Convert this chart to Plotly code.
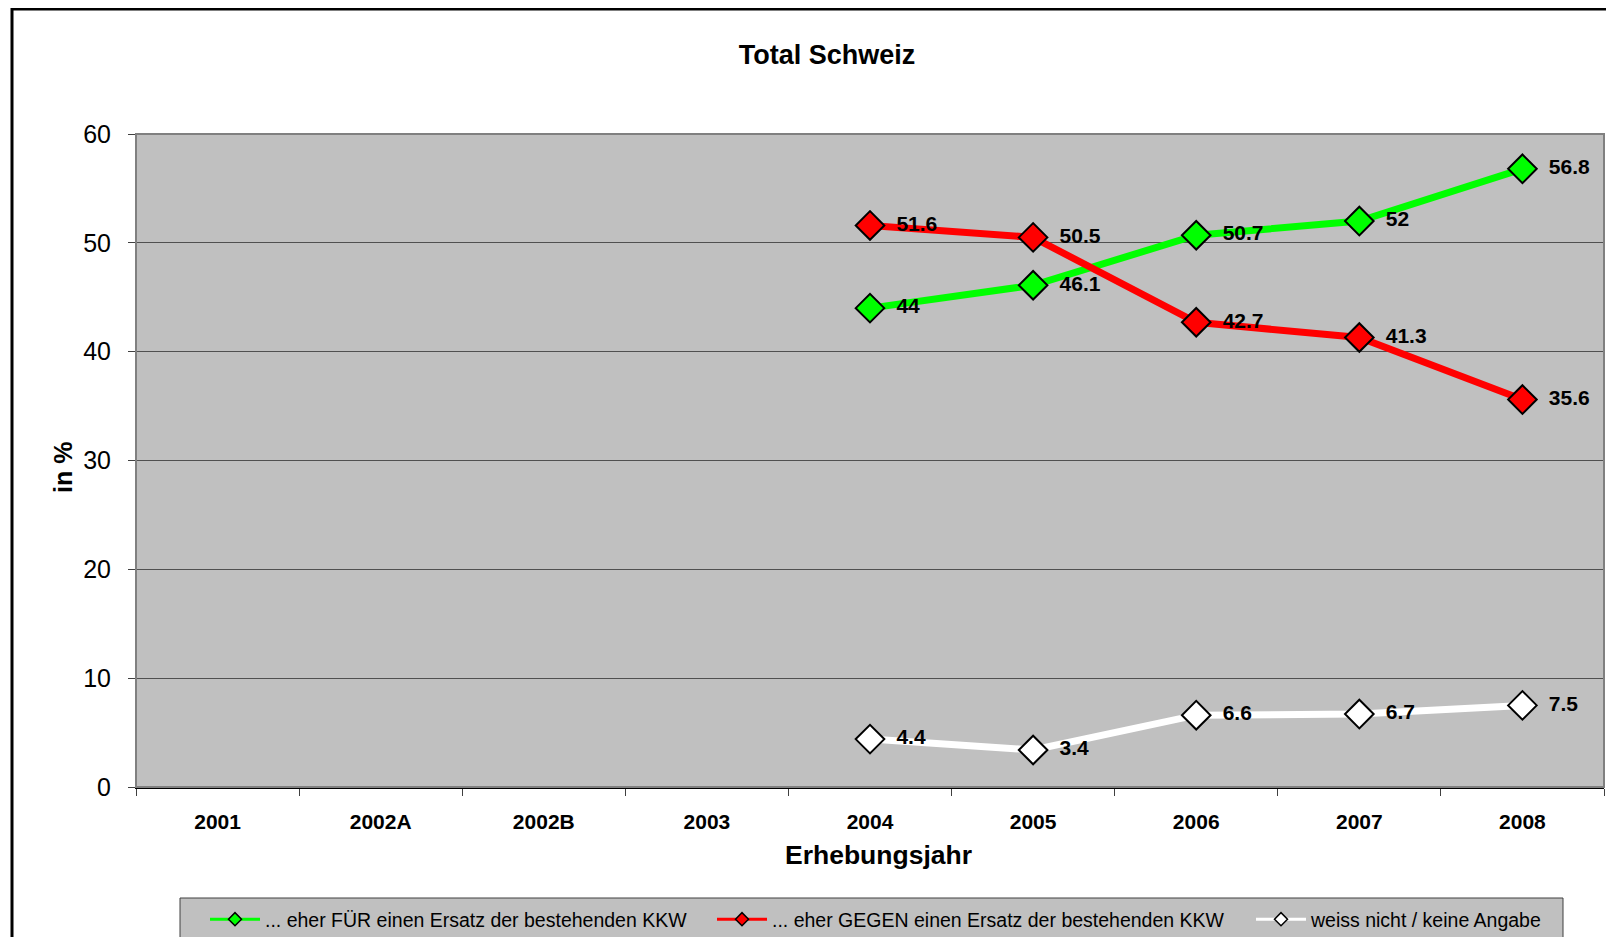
import plotly.graph_objects as go

# Daten
jahre = ["2001", "2002A", "2002B", "2003", "2004", "2005", "2006", "2007", "2008"]
fuer = [None, None, None, None, 44, 46.1, 50.7, 52, 56.8]
gegen = [None, None, None, None, 51.6, 50.5, 42.7, 41.3, 35.6]
weiss_nicht = [None, None, None, None, 4.4, 3.4, 6.6, 6.7, 7.5]

namen = [
    "... eher FÜR einen Ersatz der bestehenden KKW",
    "... eher GEGEN einen Ersatz der bestehenden KKW",
    "weiss nicht / keine Angabe",
]
farben = ["#00FF00", "#FF0000", "#FFFFFF"]
legenden_breiten = [442, 474, 240]

FONT = "Liberation Sans, Arial, sans-serif"
OFF = 8  # Body-Rand der HTML-Seite


def label(v):
    return "" if v is None else "\u00a0\u00a0" + f"{v:g}"


def px_x(x):
    # Seitenpixel -> Plotbereich-Koordinate
    return (x - 136) / 1468


def px_y(y):
    return (787 - y) / 653


fig = go.Figure()

for werte, name, farbe in zip([fuer, gegen, weiss_nicht], namen, farben):
    fig.add_trace(go.Scatter(
        x            = jahre,
        y            = werte,
        name         = name,
        mode         = "lines+markers+text",
        line         = dict(color=farbe, width=7),
        marker       = dict(symbol="diamond", size=22, color=farbe,
                            line=dict(color="black", width=2)),
        text         = [label(v) for v in werte],
        textposition = "middle right",
        textfont     = dict(family=FONT, size=21, color="black", weight="bold"),
        showlegend   = False,
        hovertemplate = "%{x}<br>%{y:.1f} %<extra></extra>",
    ))

# Legendeneinträge mit dünner Linie / kleinem Marker
for name, farbe, breite in zip(namen, farben, legenden_breiten):
    fig.add_trace(go.Scatter(
        x=[None], y=[None], name=name, mode="lines+markers",
        line=dict(color=farbe, width=3),
        marker=dict(symbol="diamond", size=10, color=farbe,
                    line=dict(color="black", width=1.5)),
        legendwidth=breite,
    ))

fig.update_layout(
    width         = 1614 - 2 * OFF,
    height        = 945 - 2 * OFF,
    margin        = dict(l=136 - OFF, r=2, t=134 - OFF, b=150, autoexpand=False),
    paper_bgcolor = "white",
    plot_bgcolor  = "#C0C0C0",
    font          = dict(family=FONT, color="black"),
    title         = dict(text="<b>Total Schweiz</b>", x=(827 - OFF) / 1598, xref="container",
                         y=1 - (55 - OFF) / 929, yref="container", yanchor="middle",
                         xanchor="center", font=dict(size=27, family=FONT, color="black")),
    xaxis = dict(
        type="category", range=[-0.5, 8.5], tickson="boundaries",
        ticks="outside", ticklen=7, tickcolor="#404040", tickwidth=1,
        showgrid=False, showline=True, linecolor="black", linewidth=2,
        tickfont=dict(size=21, family=FONT, color="black", weight="bold"),
        ticklabelstandoff=15,
    ),
    yaxis = dict(
        range=[0, 60], dtick=10, ticks="outside", ticklen=7, tickcolor="#404040",
        showgrid=True, gridcolor="#505050", gridwidth=1,
        showline=True, linecolor="#404040", linewidth=1, zeroline=False,
        tickfont=dict(size=25, family=FONT, color="black"),
        ticklabelstandoff=12,
    ),
    showlegend = True,
    legend = dict(
        orientation="h", x=px_x(205), xanchor="left", y=px_y(900), yanchor="top",
        bgcolor="rgba(0,0,0,0)", borderwidth=0,
        font=dict(size=19.5, family=FONT, color="black"),
        itemwidth=50, entrywidthmode="pixels", traceorder="normal",
    ),
)

# Achsentitel
fig.add_annotation(text="<b>Erhebungsjahr</b>", xref="paper", yref="paper",
                   x=px_x(878), y=px_y(855), showarrow=False,
                   xanchor="center", yanchor="middle", font=dict(size=26.5, family=FONT))
fig.add_annotation(text="<b>in %</b>", xref="paper", yref="paper",
                   x=px_x(63), y=px_y(468), showarrow=False,
                   textangle=-90, xanchor="center", yanchor="middle",
                   font=dict(size=25, family=FONT))

# Rahmen des Plotbereichs (oben/rechts grau), Legendenkasten und äusserer Rahmen
fig.add_shape(type="rect", xref="paper", yref="paper", x0=0, y0=0, x1=1, y1=1,
              line=dict(color="#808080", width=2), layer="above")
fig.add_shape(type="rect", xref="paper", yref="paper",
              x0=px_x(180), y0=px_y(898), x1=px_x(1563), y1=px_y(938),
              fillcolor="#C0C0C0", line=dict(color="#404040", width=1))
fig.add_shape(type="rect", xref="paper", yref="paper",
              x0=px_x(12), y0=px_y(9), x1=1.2, y1=-0.5,
              line=dict(color="black", width=3))

fig.write_html("out.html")
